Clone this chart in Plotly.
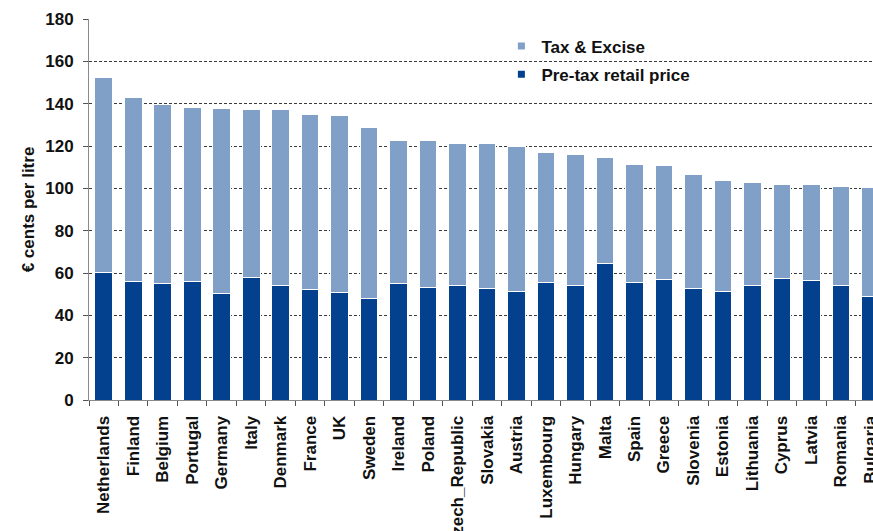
import plotly.graph_objects as go

# Unleaded petrol price breakdown, € cents per litre
countries = [
    "Netherlands", "Finland", "Belgium", "Portugal", "Germany", "Italy",
    "Denmark", "France", "UK", "Sweden", "Ireland", "Poland",
    "Czech_Republic", "Slovakia", "Austria", "Luxembourg", "Hungary",
    "Malta", "Spain", "Greece", "Slovenia", "Estonia", "Lithuania",
    "Cyprus", "Latvia", "Romania", "Bulgaria",
]
total_price = [
    152.6, 142.9, 139.8, 138.4, 137.9, 137.4,
    137.4, 135.1, 134.3, 128.9, 122.5, 122.5,
    121.4, 121.0, 119.8, 117.1, 116.0,
    114.4, 111.4, 110.9, 106.5, 103.5, 102.6,
    101.7, 101.7, 100.7, 100.2,
]
pre_tax = [
    60.4, 55.8, 55.2, 56.2, 50.1, 57.8,
    54.1, 52.2, 50.7, 47.8, 55.2, 53.3,
    54.2, 52.8, 51.4, 55.6, 53.9,
    64.3, 55.3, 56.7, 52.6, 51.1, 54.0,
    57.5, 56.3, 53.9, 49.0,
]
tax_excise = [round(t - p, 1) for t, p in zip(total_price, pre_tax)]

y_ticks = list(range(0, 181, 20))

DARK = "#03418f"
LIGHT = "#80a0c8"
FONT = dict(family="Liberation Sans, Arial, sans-serif", size=17,
            color="#111111", weight="bold")

fig = go.Figure()
fig.add_trace(go.Bar(
    x=countries, y=pre_tax, name="Pre-tax retail price",
    marker=dict(color=DARK, line=dict(color="white", width=1)),
    showlegend=False,
))
fig.add_trace(go.Bar(
    x=countries, y=tax_excise, name="Tax & Excise",
    marker=dict(color=LIGHT, line=dict(color="white", width=1)),
    showlegend=False,
))
# small square legend keys
fig.add_trace(go.Scatter(
    x=[None], y=[None], mode="markers", name="Tax & Excise",
    marker=dict(symbol="square", size=7, color=LIGHT), legendgroup="a",
))
fig.add_trace(go.Scatter(
    x=[None], y=[None], mode="markers", name="Pre-tax retail price",
    marker=dict(symbol="square", size=7, color=DARK), legendgroup="b",
))

fig.update_layout(
    width=873, height=531,
    margin=dict(l=89, r=0, t=19, b=131, autoexpand=False),
    barmode="stack", bargap=0.4,
    plot_bgcolor="white", paper_bgcolor="white",
    font=FONT,
    showlegend=True,
    legend=dict(
        x=0.526, y=0.975, xanchor="left", yanchor="top",
        traceorder="grouped", tracegroupgap=3,
        bgcolor="rgba(0,0,0,0)", font=FONT, itemwidth=30,
    ),
)
fig.update_xaxes(
    type="category", range=[-0.5, 26.09],
    tickangle=-90, tickfont=FONT,
    showline=True, linecolor="#8a8a8a", linewidth=1,
    ticks="outside", tickson="boundaries", ticklen=5, tickcolor="#555555",
    ticklabelstandoff=8,
    showgrid=False, automargin=False,
)
fig.update_yaxes(
    range=[0, 180], tickvals=y_ticks, tickfont=FONT,
    showline=True, linecolor="#8a8a8a", linewidth=1,
    ticks="outside", ticklen=5, tickcolor="#555555",
    ticklabelstandoff=6,
    showgrid=True, gridcolor="#3a3a3a", gridwidth=1, griddash="3px,2px",
    zeroline=False, automargin=False,
    title=dict(text="€ cents per litre", font=FONT, standoff=6),
)

fig.write_html("out.html")
